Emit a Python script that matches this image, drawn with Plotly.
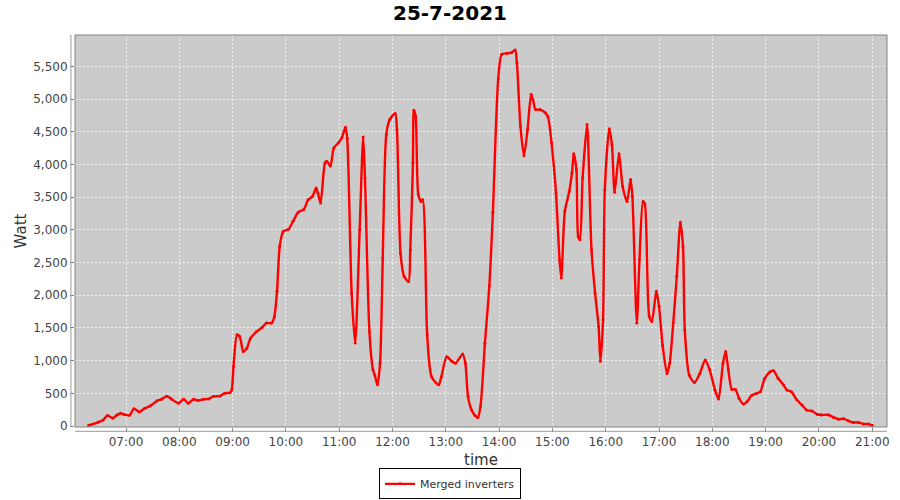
import plotly.graph_objects as go

day = "2021-07-25"

times = [
    "06:18", "06:29", "06:34", "06:39", "06:45", "06:50", "06:54", "06:58",
    "07:04", "07:09", "07:15", "07:21", "07:27", "07:35", "07:40", "07:46",
    "07:51", "07:59", "08:05", "08:10", "08:16", "08:21", "08:27", "08:33",
    "08:38", "08:46", "08:51", "08:57", "08:59", "09:01", "09:05", "09:08",
    "09:12", "09:16", "09:20", "09:27", "09:33", "09:38", "09:44", "09:47",
    "09:50", "09:53", "09:57", "10:03", "10:08", "10:14", "10:20", "10:25",
    "10:30", "10:34", "10:36", "10:39", "10:44", "10:46", "10:50", "10:54",
    "10:59", "11:03", "11:07", "11:09", "11:14", "11:18", "11:23", "11:27",
    "11:29", "11:34", "11:38", "11:40", "11:43", "11:46", "11:49", "11:53",
    "11:57", "12:03", "12:05", "12:09", "12:13", "12:18", "12:20", "12:23",
    "12:24", "12:26", "12:29", "12:32", "12:34", "12:39", "12:44", "12:52",
    "12:55", "13:01", "13:07", "13:11", "13:19", "13:22", "13:25", "13:29",
    "13:33", "13:36", "13:39", "13:44", "13:49", "13:53", "13:59", "14:03",
    "14:09", "14:14", "14:18", "14:20", "14:24", "14:28", "14:32", "14:36",
    "14:38", "14:41", "14:46", "14:52", "14:55", "14:59", "15:04", "15:08",
    "15:10", "15:14", "15:19", "15:22", "15:24", "15:27", "15:29", "15:31",
    "15:34", "15:39", "15:40", "15:44", "15:48", "15:52", "15:54", "15:57",
    "15:59", "16:04", "16:07", "16:10", "16:15", "16:19", "16:24", "16:28",
    "16:30", "16:35", "16:38", "16:42", "16:44", "16:49", "16:52", "16:57",
    "17:00", "17:04", "17:09", "17:12", "17:16", "17:20", "17:24", "17:27",
    "17:29", "17:34", "17:40", "17:46", "17:52", "17:57", "18:03", "18:07",
    "18:12", "18:15", "18:18", "18:22", "18:26", "18:30", "18:35", "18:39",
    "18:44", "18:50", "18:54", "18:59", "19:05", "19:09", "19:14", "19:20",
    "19:24", "19:29", "19:35", "19:41", "19:46", "19:52", "19:58", "20:03",
    "20:11", "20:16", "20:22", "20:28", "20:33", "20:39", "20:44", "20:50",
    "20:56", "21:00",
]

watt = [
    10, 60, 90, 160, 120, 170, 195, 175,
    165, 265, 215, 270, 305, 385, 410, 455,
    415, 350, 410, 350, 410, 390, 410, 415,
    450, 460, 500, 510, 550, 910, 1395, 1370,
    1140, 1190, 1340, 1445, 1505, 1575, 1575, 1675,
    2060, 2745, 2975, 3010, 3130, 3270, 3310, 3460,
    3515, 3640, 3565, 3410, 4025, 4050, 3975, 4255,
    4330, 4410, 4570, 4400, 2035, 1270, 3000, 4420,
    3795, 1445, 860, 780, 630, 960, 2570, 4460,
    4690, 4780, 4535, 2645, 2290, 2210, 2695, 4025,
    4830, 4740, 3540, 3435, 3460, 1395, 755, 630,
    755, 1060, 985, 960, 1100, 960, 450, 245,
    160, 130, 295, 1265, 2145, 3270, 5310, 5685,
    5700, 5710, 5750, 5555, 4585, 4135, 4535, 5070,
    4995, 4840, 4840, 4790, 4730, 4330, 3565, 2545,
    2265, 3285, 3590, 3870, 4165, 3920, 2900, 2850,
    3795, 4610, 4430, 2695, 2035, 1520, 990, 1625,
    3615, 4545, 4300, 3575, 4165, 3665, 3435, 3770,
    3515, 1575, 2545, 3435, 3400, 1675, 1600, 2060,
    1830, 1240, 805, 960, 1575, 2290, 3115, 2745,
    1470, 780, 665, 805, 1010, 860, 550, 415,
    960, 1140, 860, 560, 560, 425, 335, 370,
    465, 500, 525, 730, 830, 845, 730, 630,
    550, 525, 400, 320, 245, 230, 180, 170,
    170, 135, 105, 110, 80, 55, 55, 30,
    30, 10,
]

x = [f"{day} {t}" for t in times]

fig = go.Figure()
fig.add_trace(go.Scatter(
    x=x, y=watt, name="Merged inverters",
    mode="lines+markers",
    line=dict(color="#ff0000", width=2.4, shape="spline", smoothing=0.7),
    marker=dict(color="#ff0000", size=3),
))

font = "DejaVu Sans"
fig.update_layout(
    width=900, height=500,
    paper_bgcolor="white", plot_bgcolor="#cbcbcb",
    margin=dict(l=75, r=13, t=35, b=73, autoexpand=False),
    font=dict(family=font, size=12, color="#444444"),
    title=dict(text="<b>25-7-2021</b>", x=0.5, xanchor="center", y=0.974,
               yanchor="middle", font=dict(family=font, size=20, color="black")),
    showlegend=True,
    legend=dict(orientation="h", xref="container", x=0.5, xanchor="center",
                y=-0.145, yanchor="middle",
                bordercolor="black", borderwidth=1, bgcolor="white",
                font=dict(family=font, size=11, color="#333333"),
                itemwidth=30, tracegroupgap=0),
    xaxis=dict(
        title=dict(text="time", font=dict(family=font, size=15, color="#333333"), standoff=6),
        type="date", range=[f"{day} 06:02:35", f"{day} 21:16:37"],
        dtick=3600000, tick0=f"{day} 07:00", tickformat="%H:%M",
        showgrid=True, gridcolor="#f2f2f2", griddash="2px,2px", gridwidth=1,
        ticks="outside", ticklen=4, tickcolor="#888888",
        zeroline=False, showline=False, automargin=False,
    ),
    yaxis=dict(
        title=dict(text="Watt", font=dict(family=font, size=15, color="#333333"), standoff=2),
        range=[-15, 5980], dtick=500, tick0=0, tickformat=",",
        showgrid=True, gridcolor="#f2f2f2", griddash="2px,2px", gridwidth=1,
        ticks="outside", ticklen=4, tickcolor="#888888",
        zeroline=False, showline=False, automargin=False,
    ),
)

# plot border and offset axis lines
fig.add_shape(type="rect", xref="paper", yref="paper", x0=0, x1=1, y0=0, y1=1,
              line=dict(color="#808080", width=1))
fig.add_shape(type="line", xref="paper", yref="paper", x0=0, x1=1, y0=-0.011, y1=-0.011,
              line=dict(color="#999999", width=1))
fig.add_shape(type="line", xref="paper", yref="paper", x0=-0.005, x1=-0.005, y0=0, y1=1,
              line=dict(color="#999999", width=1))

# drop the browser's default body margin so the 900x500 figure fills the window
fig.write_html("out.html", config={"displayModeBar": False},
               post_script="document.body.style.margin='0';")
